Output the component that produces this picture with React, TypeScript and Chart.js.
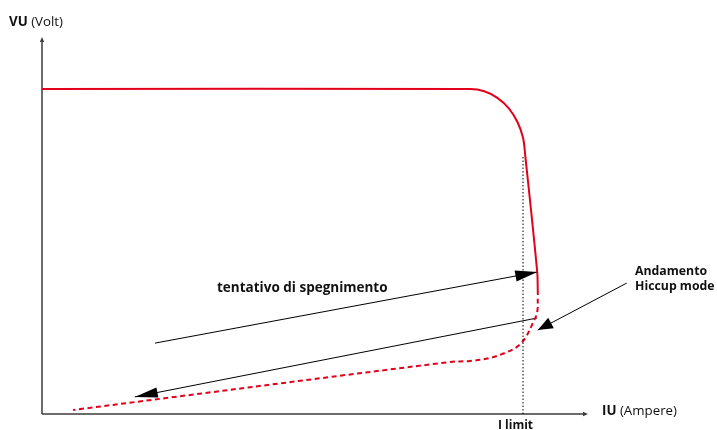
import React, { useEffect, useRef } from "react";
import { Chart, registerables } from "chart.js";

Chart.register(...registerables);

// Axis ranges (schematic units)
const currentMin = 0; // A
const currentMax = 10; // A
const voltageMin = 0; // V
const voltageMax = 15; // V

// Normal regulation curve (solid)
const solidI = [0, 7.84, 8.1, 8.34, 8.55, 8.71, 8.81, 8.85, 9.07, 9.08];
const solidV = [12.93, 12.93, 12.84, 12.58, 12.16, 11.61, 10.99, 10.3, 5.65, 4.93];

// Hiccup mode curve (dashed)
const hiccupI = [9.08, 9.08, 9.07, 8.99, 8.85, 8.7, 8.48, 8.21, 7.84, 7.47, 0.57];
const hiccupV = [4.93, 4.66, 4.06, 3.62, 3.02, 2.67, 2.43, 2.23, 2.11, 2.07, 0.16];

// I limit marker
const iLimit = 8.81;
const iLimitLineV = [0, 10.26];

// Annotation arrows (start -> tip)
const attemptArrowI = [2.07, 9.07];
const attemptArrowV = [2.82, 5.65];
const returnArrowI = [9.07, 1.7];
const returnArrowV = [3.82, 0.68];
const hiccupArrowI = [10.71, 9.08];
const hiccupArrowV = [5.21, 3.34];

// Texts
const yAxisTitleBold = "VU";
const yAxisTitleUnit = " (Volt)";
const xAxisTitleBold = "IU";
const xAxisTitleUnit = " (Ampere)";
const iLimitLabel = "I limit";
const attemptLabel = "tentativo di spegnimento";
const hiccupLabel = ["Andamento", "Hiccup mode"];

const RED = "#e2001a";
const FONT = "'Open Sans', 'Noto Sans', sans-serif";

const zip = (xs: number[], ys: number[]) => xs.map((x, i) => ({ x, y: ys[i] }));

function drawHead(ctx: CanvasRenderingContext2D, fx: number, fy: number, tx: number, ty: number, len: number, hw: number) {
  const a = Math.atan2(ty - fy, tx - fx);
  const bx = tx - Math.cos(a) * len;
  const by = ty - Math.sin(a) * len;
  ctx.beginPath();
  ctx.moveTo(tx, ty);
  ctx.lineTo(bx + Math.sin(a) * hw, by - Math.cos(a) * hw);
  ctx.lineTo(bx - Math.sin(a) * hw, by + Math.cos(a) * hw);
  ctx.closePath();
  ctx.fill();
}

const decorPlugin = {
  id: "decor",
  beforeDatasetsDraw(chart: any) {
    const { ctx, chartArea } = chart;
    const { left, right, top, bottom } = chartArea;
    ctx.save();
    ctx.strokeStyle = "#3c3c3c";
    ctx.fillStyle = "#3c3c3c";
    ctx.lineWidth = 1.5;
    ctx.beginPath();
    ctx.moveTo(left, bottom);
    ctx.lineTo(right - 3, bottom);
    ctx.moveTo(left, bottom);
    ctx.lineTo(left, top + 3);
    ctx.stroke();
    drawHead(ctx, left, bottom, right, bottom, 5, 2.2);
    drawHead(ctx, left, bottom, left, top, 5, 2.2);
    ctx.restore();
  },
  afterDatasetsDraw(chart: any) {
    const { ctx } = chart;
    ctx.save();
    ctx.fillStyle = "#000";
    chart.data.datasets.forEach((ds: any, i: number) => {
      if (!ds.arrowHead) return;
      const pts = chart.getDatasetMeta(i).data;
      const p0 = pts[pts.length - 2];
      const p1 = pts[pts.length - 1];
      drawHead(ctx, p0.x, p0.y, p1.x, p1.y, ds.arrowHead[0], ds.arrowHead[1]);
    });

    ctx.fillStyle = "#111";
    ctx.textBaseline = "alphabetic";
    const mixed = (bold: string, normal: string, x: number, y: number) => {
      ctx.font = `bold 13.3px ${FONT}`;
      ctx.fillText(bold, x, y);
      const w = ctx.measureText(bold).width;
      ctx.font = `13.3px ${FONT}`;
      ctx.fillText(normal, x + w, y);
    };
    mixed(yAxisTitleBold, yAxisTitleUnit, 9, 26);
    mixed(xAxisTitleBold, xAxisTitleUnit, 602, 415);

    ctx.font = `bold 13.5px ${FONT}`;
    ctx.fillText(attemptLabel, 217, 292);
    ctx.font = `bold 12.3px ${FONT}`;
    ctx.fillText(hiccupLabel[0], 635, 275);
    ctx.fillText(hiccupLabel[1], 635, 290);
    ctx.font = `bold 12px ${FONT}`;
    ctx.fillText(iLimitLabel, 498, 429);
    ctx.restore();
  },
};

export default function App() {
  const ref = useRef<HTMLCanvasElement | null>(null);
  useEffect(() => {
    if (!ref.current) return;
    const chart = new Chart(ref.current, {
      type: "scatter",
      data: {
        datasets: [
          {
            data: zip([iLimit, iLimit], iLimitLineV),
            showLine: true,
            borderColor: "#000",
            borderWidth: 1,
            borderDash: [1.5, 2],
            pointRadius: 0,
          },
          {
            data: zip(solidI, solidV),
            showLine: true,
            borderColor: RED,
            borderWidth: 2,
            tension: 0.35,
            pointRadius: 0,
          },
          {
            data: zip(hiccupI, hiccupV),
            showLine: true,
            borderColor: RED,
            borderWidth: 2,
            borderDash: [5, 3.5],
            tension: 0.35,
            pointRadius: 0,
          },
          {
            data: zip(attemptArrowI, attemptArrowV),
            showLine: true,
            borderColor: "#000",
            borderWidth: 1,
            pointRadius: 0,
            arrowHead: [22, 5.5],
          } as any,
          {
            data: zip(returnArrowI, returnArrowV),
            showLine: true,
            borderColor: "#000",
            borderWidth: 1,
            pointRadius: 0,
            arrowHead: [23, 5],
          } as any,
          {
            data: zip(hiccupArrowI, hiccupArrowV),
            showLine: true,
            borderColor: "#000",
            borderWidth: 1,
            pointRadius: 0,
            clip: false,
            arrowHead: [15, 6],
          } as any,
        ],
      },
      options: {
        animation: false,
        responsive: false,
        layout: { padding: { left: 42, right: 129, top: 37, bottom: 16 } },
        scales: {
          x: { type: "linear", min: currentMin, max: currentMax, display: false },
          y: { type: "linear", min: voltageMin, max: voltageMax, display: false },
        },
        plugins: { legend: { display: false }, tooltip: { enabled: false } },
      },
      plugins: [decorPlugin],
    });
    return () => chart.destroy();
  }, []);
  return (
    <div style={{ position: "fixed", left: 0, top: 0, width: 717, height: 430, background: "#fff" }}>
      <canvas ref={ref} width={717} height={430} />
    </div>
  );
}
